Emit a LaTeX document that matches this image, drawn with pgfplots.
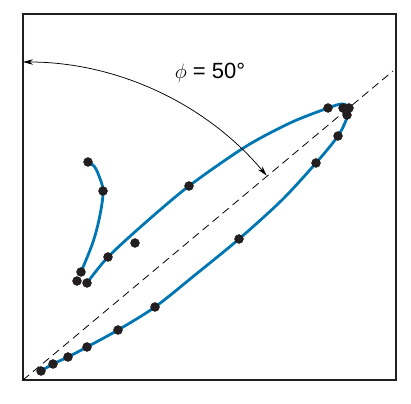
\documentclass[border=0pt]{standalone}
\usepackage{fontspec}
\setmainfont{Liberation Sans}
\usepackage{pgfplots}
\pgfplotsset{compat=1.18}
\usetikzlibrary{arrows.meta}
\definecolor{cblue}{RGB}{0,118,178}
\definecolor{dotc}{RGB}{35,31,32}
\begin{document}
\begin{tikzpicture}
\begin{axis}[scale only axis, width=373pt, height=366pt,
  xmin=0, xmax=373, ymin=0, ymax=366,
  axis line style={line width=1.4pt, draw=dotc},
  ticks=none, clip=false]
% diagonal reference line
\addplot[black, line width=0.8pt, dash pattern=on 8pt off 5pt] coordinates {(0,0) (370,309)};
% hook curve
\addplot[cblue, line width=2.8pt, smooth, tension=0.6] coordinates {
(65,218) (71,214) (76,204) (80,189) (77,165) (70,138) (58,108)};
% main loop
\addplot[cblue, line width=2.8pt, smooth, tension=0.5] coordinates {
(64,97) (85,123) (122,157) (166,194) (222,233) (267,257) (305,272)
(319,276) (327,272) (324,262) (315,244) (293,217) (259,180) (216,141) (172,105)
(132,73) (95,50) (64,33) (45,23) (30,16) (18,9)};
% data points
\addplot[only marks, mark=*, mark size=4.5pt, dotc, mark options={fill=dotc, draw=dotc}] coordinates {
(305,272) (320,272) (326,272) (324,265) (315,244) (293,217) (166,194)
(65,218) (80,189) (112,137) (85,123) (58,108) (54,99) (64,97)
(216,141) (132,73) (95,50) (64,33) (45,23) (30,16) (18,9)};
\draw[line width=0.75pt, {Stealth[length=10pt,width=5.5pt]}-{Stealth[length=10pt,width=5.5pt]}]
  (axis cs:0,318) arc[start angle=90, end angle=40, radius=318pt];
\node[font=\fontsize{22}{26}\selectfont] at (axis cs:187,307) {$\phi$ = 50°};
\end{axis}
\pgfresetboundingbox
\path (current axis.south west) ++(-23pt,-23pt) rectangle ([shift={(15pt,14pt)}]current axis.north east);
\end{tikzpicture}
\end{document}
